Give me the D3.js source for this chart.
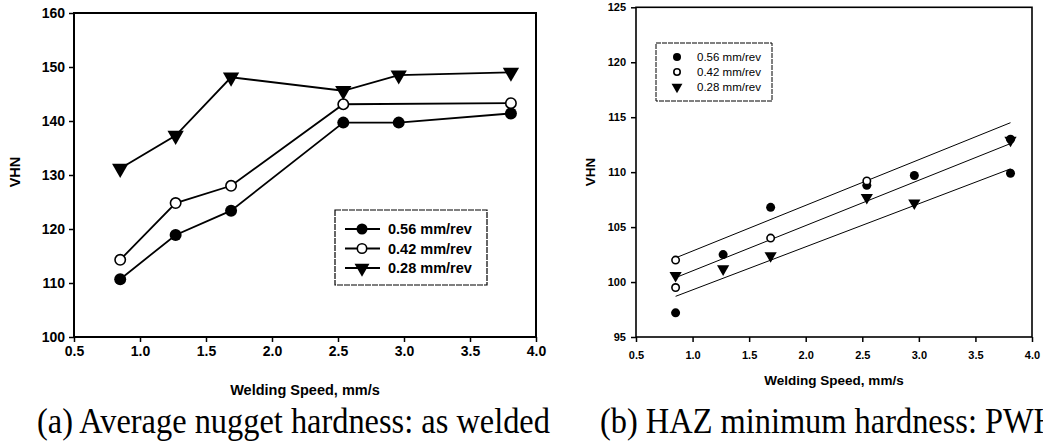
<!DOCTYPE html>
<html><head><meta charset="utf-8">
<script src="https://cdn.jsdelivr.net/npm/d3@7"></script>
<style>body{margin:0;background:#fff}svg{display:block}</style>
</head><body>
<script>
// ---------- DATA ----------
const seriesNames = ["0.56 mm/rev", "0.42 mm/rev", "0.28 mm/rev"];
const xTicks = [0.5, 1.0, 1.5, 2.0, 2.5, 3.0, 3.5, 4.0];
const xTickLabels = ["0.5","1.0","1.5","2.0","2.5","3.0","3.5","4.0"];
// (a) Average nugget hardness: as welded
const aYTicks = [100, 110, 120, 130, 140, 150, 160];
const aX056 = [0.85, 1.27, 1.69, 2.54, 2.96, 3.81];
const aY056 = [110.7, 118.9, 123.4, 139.7, 139.7, 141.4];
const aX042 = [0.85, 1.27, 1.69, 2.54, 3.81];
const aY042 = [114.3, 124.8, 128.0, 143.1, 143.3];
const aX028 = [0.85, 1.27, 1.69, 2.54, 2.96, 3.81];
const aY028 = [131.2, 137.3, 148.1, 145.6, 148.5, 149.0];
// (b) HAZ minimum hardness: PWHT
const bYTicks = [95, 100, 105, 110, 115, 120, 125];
const bX056 = [0.85, 1.27, 1.69, 2.54, 2.96, 3.81, 3.81];
const bY056 = [97.2, 102.5, 106.8, 108.8, 109.7, 109.9, 113.0];
const bX042 = [0.85, 0.85, 1.69, 2.54];
const bY042 = [102.0, 99.5, 104.0, 109.2];
const bX028 = [0.85, 1.27, 1.69, 2.54, 2.96, 3.81];
const bY028 = [100.6, 101.2, 102.4, 107.7, 107.2, 112.9];
// regression lines: [x0, x1] and [y0, y1]
const fitX = [0.85, 3.81];
const fitTop = [102.2, 114.5];
const fitMid = [100.4, 112.6];
const fitBot = [98.7, 110.3];
const captionA = "(a) Average nugget hardness: as welded";
const captionB = "(b) HAZ minimum hardness: PWHT";

// ---------- DRAW ----------
const W = 1043, H = 442;
const svg = d3.select("body").append("svg").attr("width", W).attr("height", H);
const SANS = "'Liberation Sans', Arial, sans-serif";
const SERIF = "'Liberation Serif', 'Times New Roman', serif";

function panel(cfg) {
  const x = d3.scaleLinear().domain([0.5, 4.0]).range([cfg.x0, cfg.x1]);
  const y = d3.scaleLinear().domain(cfg.yDomain).range([cfg.y0, cfg.y1]);
  const g = svg.append("g");
  g.append("rect").attr("x", cfg.x0).attr("y", cfg.y1)
    .attr("width", cfg.x1 - cfg.x0).attr("height", cfg.y0 - cfg.y1)
    .attr("fill", "none").attr("stroke", "#000").attr("stroke-width", cfg.frameW);
  const xa = g.append("g").attr("transform", `translate(0,${cfg.y0})`)
    .call(d3.axisBottom(x).tickValues(xTicks).tickFormat((d, i) => xTickLabels[i]).tickSize(5).tickPadding(cfg.xPad));
  const ya = g.append("g").attr("transform", `translate(${cfg.x0},0)`)
    .call(d3.axisLeft(y).tickValues(cfg.yTicks).tickFormat(d3.format("d")).tickSize(5).tickPadding(cfg.yPad));
  [xa, ya].forEach(a => {
    a.select(".domain").remove();
    a.selectAll("line").attr("stroke", "#000").attr("stroke-width", 1.5);
    a.selectAll("text").attr("font-family", SANS).attr("font-weight", "bold")
      .attr("font-size", cfg.tickFs).attr("fill", "#000");
  });
  g.append("text").attr("x", cfg.xTitleX).attr("y", cfg.xTitleY)
    .attr("text-anchor", "middle").attr("font-family", SANS).attr("font-weight", "bold")
    .attr("font-size", cfg.titleFs).text("Welding Speed, mm/s");
  g.append("text").attr("transform", `translate(${cfg.yTitleX},${cfg.yTitleY}) rotate(-90)`)
    .attr("text-anchor", "middle").attr("font-family", SANS).attr("font-weight", "bold")
    .attr("font-size", cfg.titleFs).text("VHN");
  return {g, x, y};
}

function marker(g, type, cx, cy, s) {
  if (type === 0) {
    g.append("circle").attr("cx", cx).attr("cy", cy).attr("r", s).attr("fill", "#000");
  } else if (type === 1) {
    g.append("circle").attr("cx", cx).attr("cy", cy).attr("r", s - 0.8).attr("fill", "#fff")
      .attr("stroke", "#000").attr("stroke-width", 1.6);
  } else {
    const sym = d3.symbol().type(d3.symbolTriangle).size(s * s * 3.2);
    g.append("path").attr("d", sym()).attr("fill", "#000")
      .attr("transform", `translate(${cx},${cy}) rotate(180)`);
  }
}

// ---- Panel A ----
const A = panel({x0: 74, x1: 536, y0: 337, y1: 13, yDomain: [100, 160], yTicks: aYTicks,
  frameW: 2, tickFs: 14, titleFs: 14.5, xPad: 4, yPad: 4, xTitleX: 305, xTitleY: 395, yTitleX: 20, yTitleY: 172});
const aSeries = [[aX056, aY056], [aX042, aY042], [aX028, aY028]];
const lineA = d3.line().x(d => A.x(d[0])).y(d => A.y(d[1]));
aSeries.forEach(([xs, ys]) => {
  const pts = xs.map((v, i) => [v, ys[i]]);
  A.g.append("path").attr("d", lineA(pts)).attr("fill", "none").attr("stroke", "#000").attr("stroke-width", 1.8);
});
aSeries.forEach(([xs, ys], k) => {
  xs.forEach((v, i) => marker(A.g, k, A.x(v), A.y(ys[i]), 6));
});
{
  const lg = A.g.append("g");
  lg.append("rect").attr("x", 335).attr("y", 210).attr("width", 152).attr("height", 75)
    .attr("fill", "#fff").attr("stroke", "#000").attr("stroke-width", 1.2).attr("stroke-dasharray", "6,1");
  seriesNames.forEach((n, k) => {
    const yy = 229 + k * 19.5;
    lg.append("line").attr("x1", 345).attr("x2", 380).attr("y1", yy).attr("y2", yy)
      .attr("stroke", "#000").attr("stroke-width", 1.8);
    marker(lg, k, 362, yy, 5.5);
    lg.append("text").attr("x", 388).attr("y", yy + 5).attr("font-family", SANS)
      .attr("font-weight", "bold").attr("font-size", 14.5).text(n);
  });
}

// ---- Panel B ----
const B = panel({x0: 636, x1: 1032, y0: 337, y1: 7.3, yDomain: [95, 125], yTicks: bYTicks,
  frameW: 1.6, tickFs: 11, titleFs: 13.5, xPad: 9, yPad: 5, xTitleX: 834, xTitleY: 385, yTitleX: 595, yTitleY: 172});
const fitLine = d3.line().x(d => B.x(d[0])).y(d => B.y(d[1]));
[fitTop, fitMid, fitBot].forEach(f => {
  B.g.append("path").attr("d", fitLine(fitX.map((v, i) => [v, f[i]])))
    .attr("fill", "none").attr("stroke", "#000").attr("stroke-width", 1);
});
const bSeries = [[bX056, bY056], [bX042, bY042], [bX028, bY028]];
bSeries.forEach(([xs, ys], k) => {
  xs.forEach((v, i) => marker(B.g, k, B.x(v), B.y(ys[i]), 4.5));
});
{
  const lg = B.g.append("g");
  lg.append("rect").attr("x", 656).attr("y", 43).attr("width", 116).attr("height", 58)
    .attr("fill", "#fff").attr("stroke", "#000").attr("stroke-width", 1).attr("stroke-dasharray", "5,1");
  seriesNames.forEach((n, k) => {
    const yy = 57 + k * 15;
    marker(lg, k, 677, yy, 4);
    lg.append("text").attr("x", 697).attr("y", yy + 4).attr("font-family", SANS)
      .attr("font-size", 11.5).text(n);
  });
}

// captions (slightly condensed serif)
svg.append("text").attr("transform", "translate(37,433) scale(0.9,1)")
  .attr("font-family", SERIF).attr("font-size", 36).text(captionA);
svg.append("text").attr("transform", "translate(600,433) scale(0.9,1)")
  .attr("font-family", SERIF).attr("font-size", 36).text(captionB);
</script>
</body></html>
